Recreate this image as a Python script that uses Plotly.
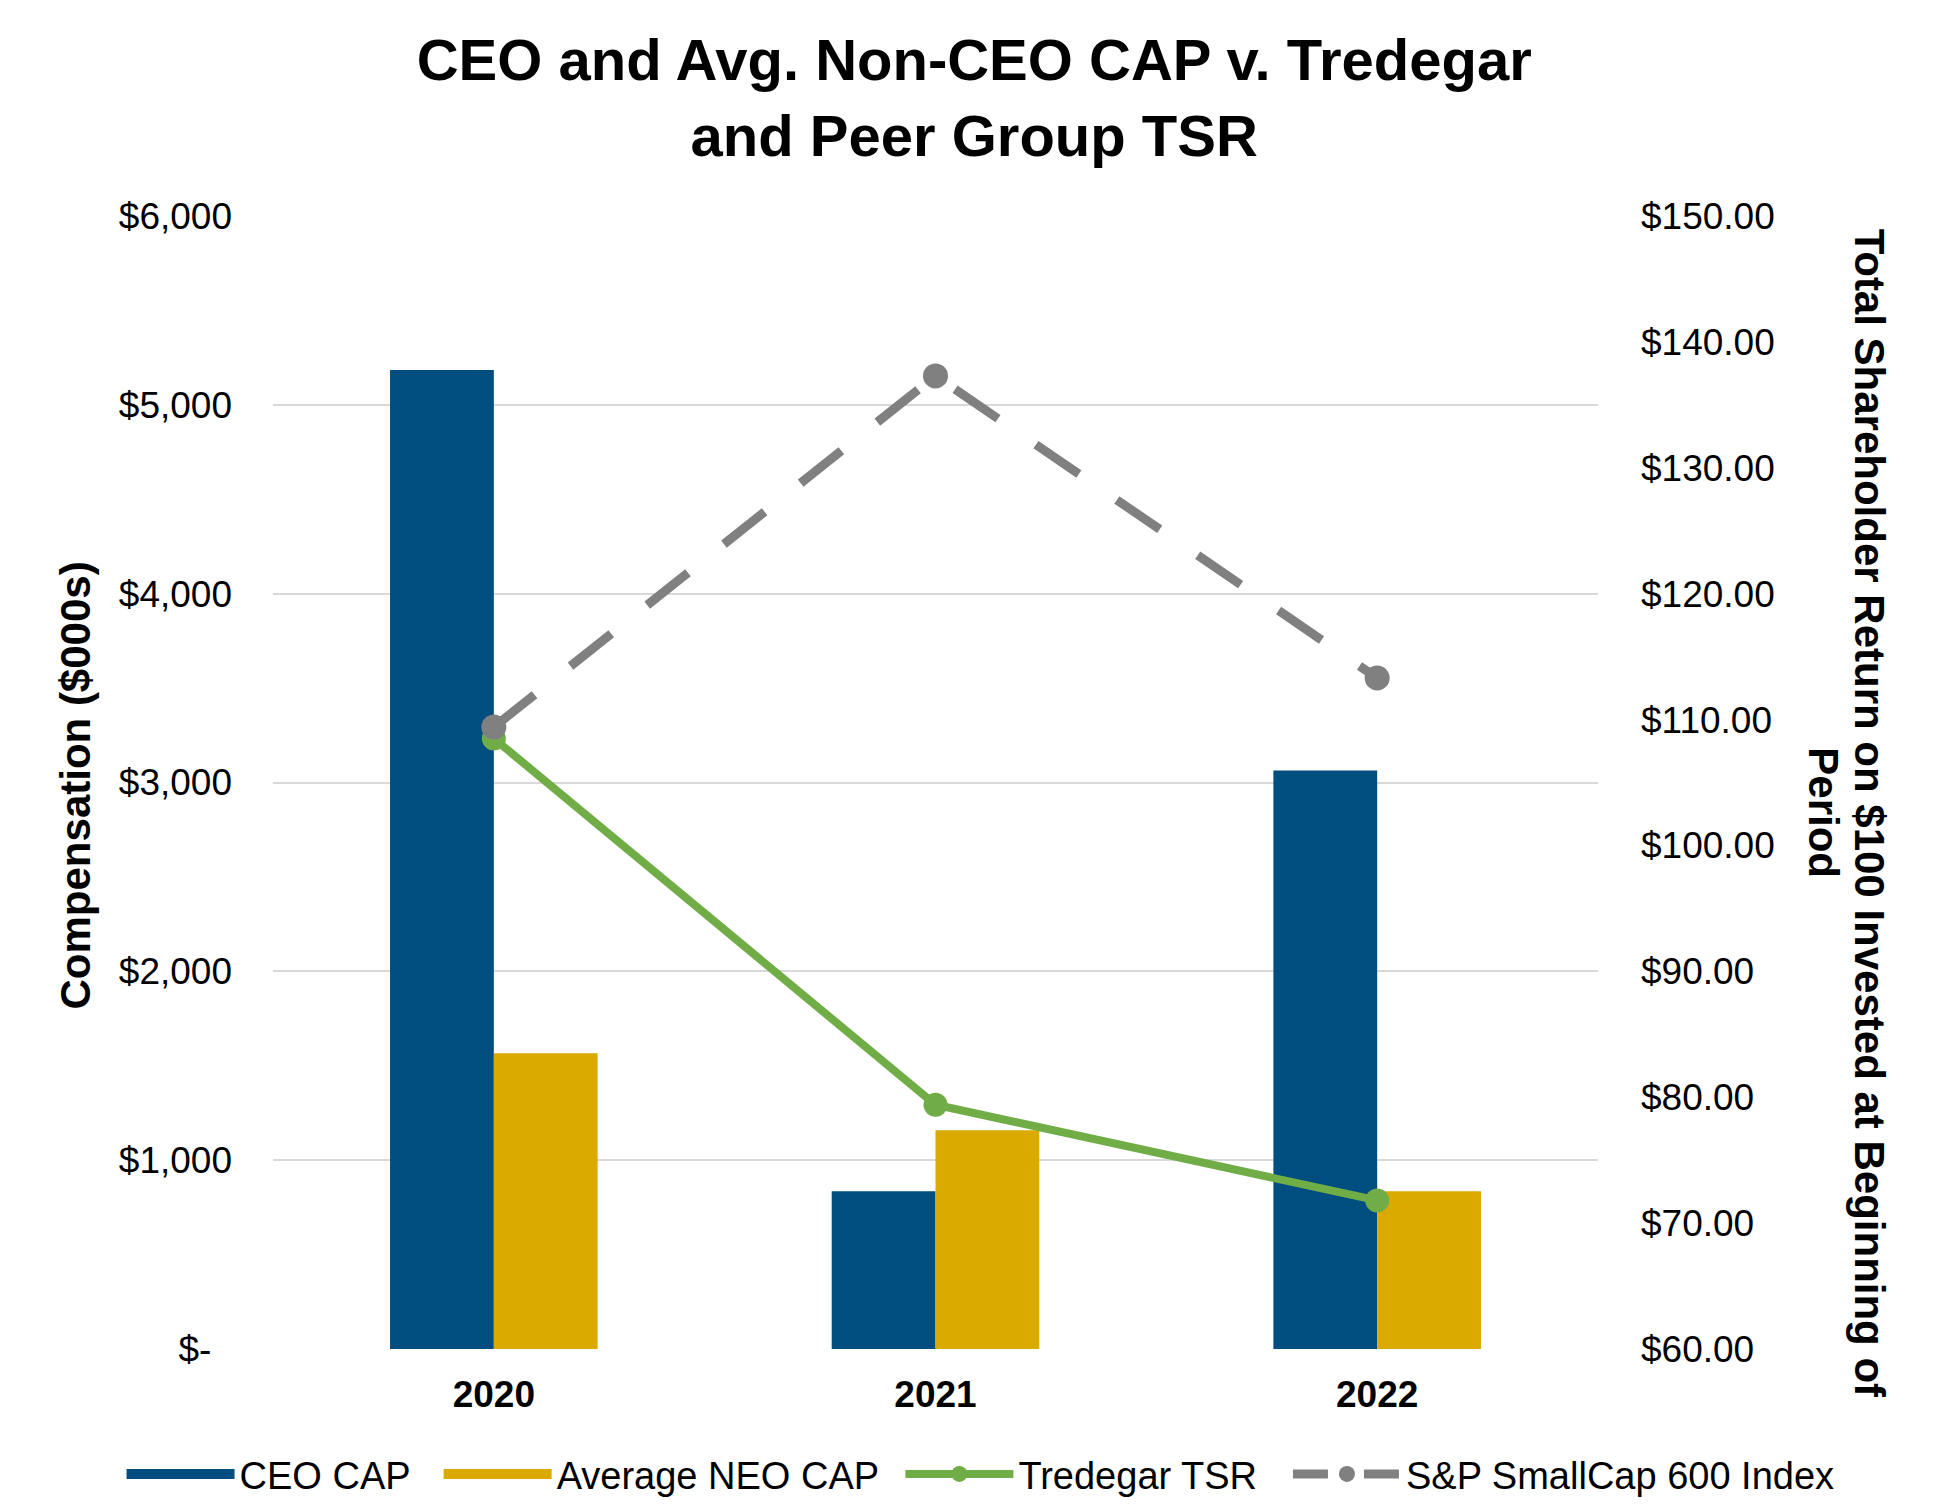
import plotly.graph_objects as go

years = ["2020", "2021", "2022"]
ceo_cap = [5185, 836, 3063]
neo_cap = [1566, 1159, 836]
tredegar_tsr = [108.5, 79.4, 71.8]
sp600_tsr = [109.4, 137.3, 113.3]

left_tickvals = [0, 1000, 2000, 3000, 4000, 5000, 6000]
left_ticktext = ["$-\u00a0\u00a0", "$1,000", "$2,000", "$3,000", "$4,000", "$5,000", "$6,000"]

legend_names = ["CEO CAP", "Average NEO CAP", "Tredegar TSR", "S&P SmallCap 600 Index"]

C_CEO = "#004D80"
C_NEO = "#DAAA00"
C_GREEN = "#70AD47"
C_GRAY = "#808080"
FONT = "Liberation Sans, Arial, sans-serif"

fig = go.Figure()

fig.add_trace(go.Bar(x=years, y=ceo_cap, name=legend_names[0], marker_color=C_CEO,
                     marker_line_width=0, showlegend=False))
fig.add_trace(go.Bar(x=years, y=neo_cap, name=legend_names[1], marker_color=C_NEO,
                     marker_line_width=0, showlegend=False))
fig.add_trace(go.Scatter(x=years, y=tredegar_tsr, name=legend_names[2], mode="lines+markers",
                         line=dict(color=C_GREEN, width=8), marker=dict(size=24, color=C_GREEN),
                         yaxis="y2", showlegend=False))
fig.add_trace(go.Scatter(x=years, y=sp600_tsr, name=legend_names[3], mode="lines+markers",
                         line=dict(color=C_GRAY, width=9, dash="52px,46px"),
                         marker=dict(size=25, color=C_GRAY), yaxis="y2", showlegend=False))

# legend entries (wide swatches like the reference), one legend per entry
fig.add_trace(go.Scatter(x=[None], y=[None], mode="lines", name=legend_names[0],
                         line=dict(color=C_CEO, width=18), legend="legend"))
fig.add_trace(go.Scatter(x=[None], y=[None], mode="lines", name=legend_names[1],
                         line=dict(color=C_NEO, width=18), legend="legend2"))
fig.add_trace(go.Scatter(x=[None], y=[None], mode="lines+markers", name=legend_names[2],
                         line=dict(color=C_GREEN, width=8), marker=dict(size=17, color=C_GREEN),
                         legend="legend3"))
fig.add_trace(go.Scatter(x=[None], y=[None], mode="lines+markers", name=legend_names[3],
                         line=dict(color=C_GRAY, width=9, dash="35px,36px"),
                         marker=dict(size=17, color=C_GRAY), legend="legend4"))


def leg(x):
    return dict(orientation="h", x=x, xanchor="left", y=-0.1105, yanchor="middle",
                font=dict(family=FONT, size=38, color="#000000"),
                itemwidth=108, bgcolor="rgba(0,0,0,0)")


fig.update_layout(
    width=1948, height=1510,
    margin=dict(l=265, r=358, t=208, b=153),
    paper_bgcolor="white", plot_bgcolor="white",
    font=dict(family=FONT, size=37, color="#000000"),
    barmode="group", bargap=0.53, bargroupgap=0,
    title=dict(text="<b>CEO and Avg. Non-CEO CAP v. Tredegar<br>and Peer Group TSR</b>",
               x=0.496, xref="container", xanchor="center",
               y=0.952, yref="container", yanchor="middle",
               font=dict(family=FONT, size=58, color="#000000")),
    xaxis=dict(type="category", showgrid=False, showline=False, zeroline=False,
               tickfont=dict(family=FONT, size=37, color="#000000", weight="bold"),
               ticks="", ticklabelstandoff=20),
    yaxis=dict(range=[0, 6000], tickvals=left_tickvals, ticktext=left_ticktext,
               showgrid=True, gridcolor="#D9D9D9", gridwidth=2,
               zeroline=False, showline=False, ticks="", ticklabelstandoff=40,
               tickfont=dict(family=FONT, size=37, color="#000000")),
    yaxis2=dict(range=[60, 150], dtick=10, tick0=60, tickprefix="$", tickformat=".2f",
                overlaying="y", side="right", showgrid=False, zeroline=False,
                showline=False, ticks="", ticklabelstandoff=42,
                tickfont=dict(family=FONT, size=37, color="#000000")),
    legend=leg(-0.1143),
    legend2=leg(0.125),
    legend3=leg(0.4735),
    legend4=leg(0.7660),
    annotations=[
        dict(text="<b>Compensation ($000s)</b>", textangle=-90, xref="paper", yref="paper",
             x=-0.149, y=0.497, xanchor="center", yanchor="middle", showarrow=False,
             font=dict(family=FONT, size=42, color="#000000")),
        dict(text="<b>Total Shareholder Return on $100 Invested at Beginning of</b>",
             textangle=90, xref="paper", yref="paper", x=1.2045, y=0.4725,
             xanchor="center", yanchor="middle", showarrow=False,
             font=dict(family=FONT, size=42, color="#000000")),
        dict(text="<b>Period</b>",
             textangle=90, xref="paper", yref="paper", x=1.170, y=0.4735,
             xanchor="center", yanchor="middle", showarrow=False,
             font=dict(family=FONT, size=42, color="#000000")),
    ],
)

fig.write_html("out.html")
